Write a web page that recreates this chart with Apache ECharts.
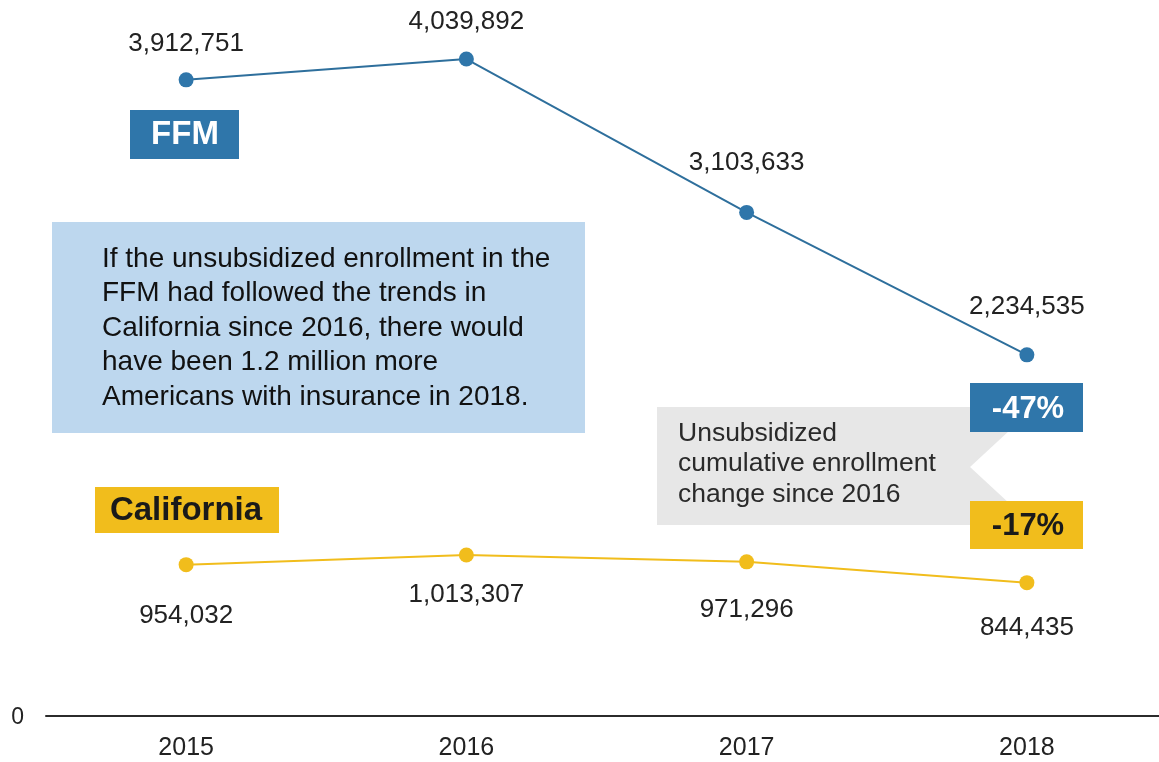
<!DOCTYPE html>
<html>
<head>
<meta charset="utf-8">
<script src="https://cdn.jsdelivr.net/npm/echarts@6/dist/echarts.min.js"></script>
<style>
  html, body { margin: 0; padding: 0; background: #fff; overflow: hidden; }
  #chart { width: 1170px; height: 762px; }
</style>
</head>
<body>
<div id="chart"></div>
<script>
// Unsubsidized enrollment, federally-facilitated marketplace vs. California
const years = ['2015', '2016', '2017', '2018'];
const ffmEnrollment = [3912751, 4039892, 3103633, 2234535];
const californiaEnrollment = [954032, 1013307, 971296, 844435];
const yTicks = [0];

// vertical placement of each value label relative to its point (px)
const ffmLabelDy = [-36, -37, -50, -48];
const caLabelDy = [51, 40, 48, 45];

const BLUE = '#2f76aa';
const YELLOW = '#f1bd1c';
const FONT = '"Liberation Sans", Arial, Helvetica, sans-serif';

const fmt = v => v.toLocaleString('en-US');

function pointData(values, dys) {
  return values.map((v, i) => ({
    value: v,
    label: { offset: [0, dys[i]] }
  }));
}

const chart = echarts.init(document.getElementById('chart'), null, { renderer: 'canvas' });

chart.setOption({
  backgroundColor: '#ffffff',
  animation: false,
  grid: { left: 46, width: 1121, top: 0, bottom: 41, containLabel: false },
  xAxis: {
    type: 'category',
    data: years,
    boundaryGap: true,
    offset: -5,
    axisLine: { show: true, lineStyle: { color: '#2b2b2b', width: 2 } },
    axisTick: { show: false },
    axisLabel: { color: '#222', fontSize: 25, fontFamily: FONT, margin: 20 }
  },
  yAxis: {
    type: 'value',
    min: 0,
    max: 4400000,
    interval: 4400000,
    axisLine: { show: false },
    axisTick: { show: false },
    splitLine: { show: false },
    axisLabel: {
      color: '#222', fontSize: 23, fontFamily: FONT, margin: 22,
      verticalAlign: 'bottom', lineHeight: 7,
      formatter: v => (yTicks.includes(v) ? String(v) : '')
    }
  },
  series: [
    {
      name: 'FFM',
      type: 'line',
      data: pointData(ffmEnrollment, ffmLabelDy),
      symbol: 'circle',
      symbolSize: 15,
      lineStyle: { color: '#2e6f9c', width: 2 },
      itemStyle: { color: BLUE },
      label: {
        show: true, position: 'inside', color: '#222',
        fontSize: 26, fontFamily: FONT,
        formatter: p => fmt(p.value)
      },
      z: 5
    },
    {
      name: 'California',
      type: 'line',
      data: pointData(californiaEnrollment, caLabelDy),
      symbol: 'circle',
      symbolSize: 15,
      lineStyle: { color: YELLOW, width: 2 },
      itemStyle: { color: YELLOW },
      label: {
        show: true, position: 'inside', color: '#222',
        fontSize: 26, fontFamily: FONT,
        formatter: p => fmt(p.value)
      },
      z: 5
    }
  ],
  graphic: [
    // series name tags
    { type: 'rect', left: 130, top: 110, shape: { width: 109, height: 49 }, style: { fill: BLUE }, z: 10 },
    { type: 'text', x: 185, y: 135, style: { text: 'FFM', fill: '#fff', font: 'bold 33px ' + FONT, align: 'center', verticalAlign: 'middle' }, z: 11 },
    { type: 'rect', left: 95, top: 487, shape: { width: 184, height: 46 }, style: { fill: YELLOW }, z: 10 },
    { type: 'text', x: 186, y: 511, style: { text: 'California', fill: '#1a1a1a', font: 'bold 33px ' + FONT, align: 'center', verticalAlign: 'middle' }, z: 11 },

    // explanatory note
    { type: 'rect', left: 52, top: 222, shape: { width: 533, height: 211 }, style: { fill: '#bdd7ee' }, z: 10 },
    { type: 'text', x: 102, y: 242, style: {
        text: 'If the unsubsidized enrollment in the\nFFM had followed the trends in\nCalifornia since 2016, there would\nhave been 1.2 million more\nAmericans with insurance in 2018.',
        fill: '#111', font: '28px ' + FONT, lineHeight: 34.5, verticalAlign: 'top' }, z: 11 },

    // cumulative change callout
    { type: 'polygon', shape: { points: [[657, 407], [1010, 407], [1010, 430], [970, 467], [1010, 504], [1010, 525], [657, 525]] }, style: { fill: '#e7e7e7' }, z: 9 },
    { type: 'text', x: 678, y: 418, style: {
        text: 'Unsubsidized\ncumulative enrollment\nchange since 2016',
        fill: '#2a2a2a', font: '26.5px ' + FONT, lineHeight: 30.5, verticalAlign: 'top' }, z: 11 },
    { type: 'rect', left: 970, top: 383, shape: { width: 113, height: 49 }, style: { fill: BLUE }, z: 10 },
    { type: 'text', x: 1028, y: 409, style: { text: '-47%', fill: '#fff', font: 'bold 31px ' + FONT, align: 'center', verticalAlign: 'middle' }, z: 11 },
    { type: 'rect', left: 970, top: 501, shape: { width: 113, height: 48 }, style: { fill: YELLOW }, z: 10 },
    { type: 'text', x: 1028, y: 526, style: { text: '-17%', fill: '#1a1a1a', font: 'bold 31px ' + FONT, align: 'center', verticalAlign: 'middle' }, z: 11 }
  ]
});
</script>
</body>
</html>
